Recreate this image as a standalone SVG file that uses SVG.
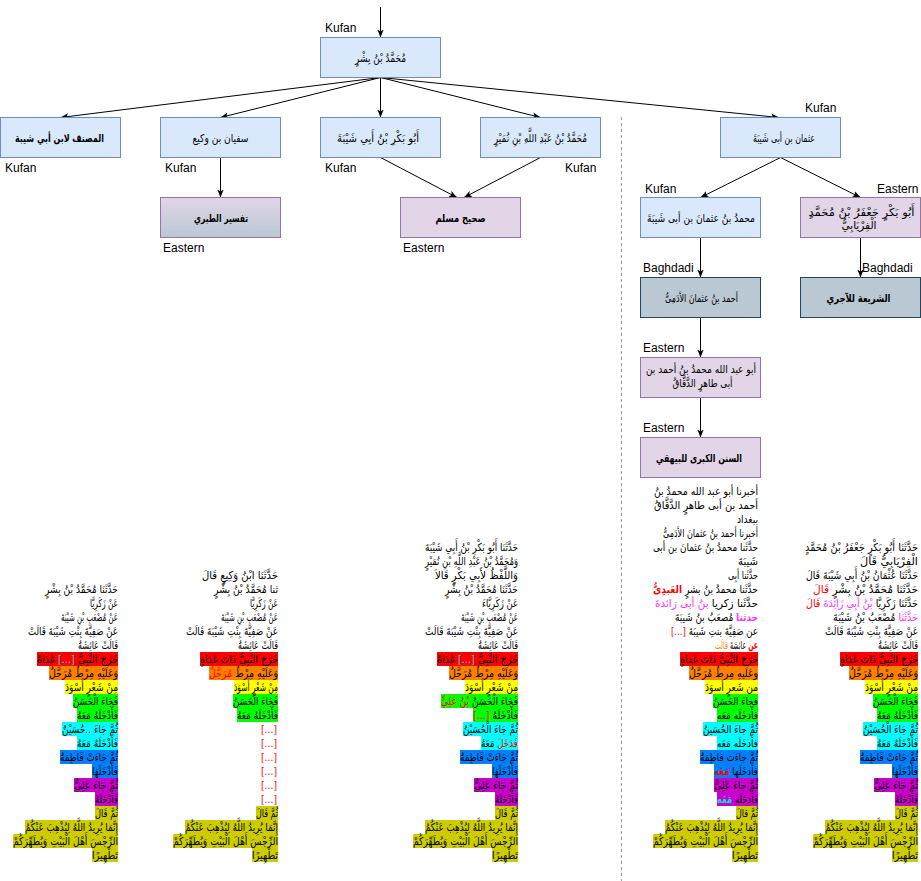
<svg xmlns="http://www.w3.org/2000/svg" width="921" height="881" viewBox="0 0 921 881">
<style>
.box rect{stroke-width:1}
.blue{fill:#dae8fc;stroke:#6c8ebf}
.purp{fill:#e1d5e7;stroke:#9673a6}
.gray{fill:#bac8d3;stroke:#23445d}
.nt{font-family:"DejaVu Sans",sans-serif;font-size:11px;fill:#000;text-anchor:middle}
.b{font-weight:bold}
.lbl{font-family:"Liberation Sans",Arial,sans-serif;font-size:12px;fill:#000}
.ar{font-family:"DejaVu Sans",sans-serif;font-size:11px;fill:#000;text-anchor:end}
.conn line{stroke:#000;stroke-width:1;fill:none;marker-end:url(#arr)}
.hr{fill:#ff0000}.ho{fill:#ff8000}.hy{fill:#ffff00}.hg{fill:#00ff00}.hc{fill:#00ffff}.hb{fill:#007fff}.hp{fill:#cc00cc}.hl{fill:#cccc00}
.tr{fill:#ff0000}.tm{fill:#ff33ff}.tc{fill:#00dede}.to{fill:#ff8000}
</style>
<defs>
<marker id="arr" viewBox="0 0 10 10" refX="10" refY="5" markerWidth="8" markerHeight="8" markerUnits="userSpaceOnUse" orient="auto">
<path d="M0,1 L10,5 L0,9 L2.5,5 z" fill="#000"/>
</marker>
<linearGradient id="grad" x1="0" y1="0" x2="0" y2="1">
<stop offset="0" stop-color="#e1d5e7"/>
<stop offset="1" stop-color="#bac8d3"/>
</linearGradient>
</defs>

<line x1="621.5" y1="117" x2="621.5" y2="881" stroke="#999" stroke-width="1" stroke-dasharray="3 3"/>

<g id="connectors" class="conn">
<line x1="380.5" y1="7" x2="380.5" y2="37.5"/>
<line x1="380.5" y1="77.5" x2="60.5" y2="117.5"/>
<line x1="380.5" y1="77.5" x2="220.5" y2="117.5"/>
<line x1="380.5" y1="77.5" x2="380.5" y2="117.5"/>
<line x1="380.5" y1="77.5" x2="540.5" y2="117.5"/>
<line x1="380.5" y1="77.5" x2="779" y2="117.5"/>
<line x1="220.5" y1="157.5" x2="220.5" y2="197.5"/>
<line x1="380.5" y1="157.5" x2="457" y2="197.5"/>
<line x1="540.5" y1="157.5" x2="464" y2="197.5"/>
<line x1="780.5" y1="157.5" x2="700.5" y2="197.5"/>
<line x1="780.5" y1="157.5" x2="860.5" y2="197.5"/>
<line x1="700.5" y1="237.5" x2="700.5" y2="277.5"/>
<line x1="860.5" y1="237.5" x2="860.5" y2="277.5"/>
<line x1="700.5" y1="317.5" x2="700.5" y2="357.5"/>
<line x1="700.5" y1="397.5" x2="700.5" y2="437.5"/>
</g>

<g id="n-ibn-bishr" class="box"><rect class="blue" x="320.5" y="37.5" width="120" height="40"/><text class="nt" x="380.5" y="61.5" textLength="51" lengthAdjust="spacingAndGlyphs">مُحَمَّدُ بْنُ بِشْرٍ</text><text class="lbl" x="325" y="31.5">Kufan</text></g>
<g id="n-musannaf" class="box"><rect class="blue" x="0.5" y="117.5" width="120" height="40"/><text class="nt b" x="59.5" y="141.5" textLength="89" lengthAdjust="spacingAndGlyphs">المصنف لابن أبي شيبة</text><text class="lbl" x="5" y="171.5">Kufan</text></g>
<g id="n-sufyan" class="box"><rect class="blue" x="160.5" y="117.5" width="120" height="40"/><text class="nt" x="220.5" y="141.5" textLength="56" lengthAdjust="spacingAndGlyphs">سفيان بن وكيع</text><text class="lbl" x="165" y="171.5">Kufan</text></g>
<g id="n-abubakr" class="box"><rect class="blue" x="320.5" y="117.5" width="120" height="40"/><text class="nt" x="378" y="141.5" textLength="82" lengthAdjust="spacingAndGlyphs">أَبُو بَكْرِ بْنُ أَبِي شَيْبَةَ</text><text class="lbl" x="325" y="171.5">Kufan</text></g>
<g id="n-numayr" class="box"><rect class="blue" x="480.5" y="117.5" width="120" height="40"/><text class="nt" x="540.5" y="141.5" textLength="93" lengthAdjust="spacingAndGlyphs">مُحَمَّدُ بْنُ عَبْدِ اللَّهِ بْنِ نُمَيْرٍ</text><text class="lbl" x="565" y="171.5">Kufan</text></g>
<g id="n-uthman" class="box"><rect class="blue" x="720.5" y="117.5" width="120" height="40"/><text class="nt" x="784" y="141.5" textLength="62" lengthAdjust="spacingAndGlyphs">عثمان بن أبى شَيبَةَ</text><text class="lbl" x="805" y="111.5">Kufan</text></g>
<g id="n-tabari" class="box"><rect x="160.5" y="197.5" width="120" height="40" fill="url(#grad)" stroke="#9673a6"/><text class="nt b" x="221" y="221.5" textLength="54" lengthAdjust="spacingAndGlyphs">تفسير الطبري</text><text class="lbl" x="163" y="251.5">Eastern</text></g>
<g id="n-muslim" class="box"><rect class="purp" x="400.5" y="197.5" width="120" height="40"/><text class="nt b" x="460.5" y="221.5" textLength="50" lengthAdjust="spacingAndGlyphs">صحيح مسلم</text><text class="lbl" x="403" y="251.5">Eastern</text></g>
<g id="n-muhammad-uthman" class="box"><rect class="blue" x="640.5" y="197.5" width="120" height="40"/><text class="nt" x="701" y="221.5" textLength="108" lengthAdjust="spacingAndGlyphs">محمدُ بنُ عثمانَ بن أبى شَيبَةَ</text><text class="lbl" x="645" y="193">Kufan</text></g>
<g id="n-firyabi" class="box"><rect class="purp" x="800.5" y="197.5" width="120" height="40"/><text class="nt" x="861.5" y="215.5" textLength="106" lengthAdjust="spacingAndGlyphs">أَبُو بَكْرٍ جَعْفَرُ بْنُ مُحَمَّدٍ</text><text class="nt" x="859" y="229" textLength="35" lengthAdjust="spacingAndGlyphs">الْفِرْيَابِيُّ</text><text class="lbl" x="877" y="193">Eastern</text></g>
<g id="n-adami" class="box"><rect class="gray" x="640.5" y="277.5" width="120" height="40"/><text class="nt" x="701.5" y="301.5" textLength="73" lengthAdjust="spacingAndGlyphs">أحمد بنُ عثمانَ الأدَمِىُّ</text><text class="lbl" x="643" y="272">Baghdadi</text></g>
<g id="n-shariah" class="box"><rect class="gray" x="800.5" y="277.5" width="120" height="40"/><text class="nt b" x="858.5" y="301.5" textLength="64" lengthAdjust="spacingAndGlyphs">الشريعة للآجري</text><text class="lbl" x="862" y="272">Baghdadi</text></g>
<g id="n-daqqaq" class="box"><rect class="purp" x="640.5" y="357.5" width="120" height="40"/><text class="nt" x="701" y="373" textLength="110" lengthAdjust="spacingAndGlyphs">أبو عبد الله محمدُ بنُ أحمد بن</text><text class="nt" x="702.5" y="386.5" textLength="60" lengthAdjust="spacingAndGlyphs">أبى طاهرٍ الدَّقَّاقُ</text><text class="lbl" x="643" y="351.5">Eastern</text></g>
<g id="n-bayhaqi" class="box"><rect class="purp" x="640.5" y="437.5" width="120" height="40"/><text class="nt b" x="699" y="461.5" textLength="86" lengthAdjust="spacingAndGlyphs">السنن الكبرى للبيهقي</text><text class="lbl" x="643" y="431.5">Eastern</text></g>

<!-- Column 1 -->
<g id="text-musannaf">
<text class="ar" x="118" y="593" textLength="73" lengthAdjust="spacingAndGlyphs">حَدَّثَنَا مُحَمَّدُ بْنُ بِشْرٍ</text>
<text class="ar" x="118" y="607" textLength="28" lengthAdjust="spacingAndGlyphs">عَنْ زَكَرِيَّا</text>
<text class="ar" x="118" y="621" textLength="57" lengthAdjust="spacingAndGlyphs">عَنْ مُصْعَبِ بْنِ شَيْبَةَ</text>
<text class="ar" x="118" y="635" textLength="90" lengthAdjust="spacingAndGlyphs">عَنْ صَفِيَّةَ بِنْتِ شَيْبَةَ قَالَتْ</text>
<text class="ar" x="118" y="649" textLength="40" lengthAdjust="spacingAndGlyphs">قَالَتْ عَائِشَةُ</text>
<rect class="hr" x="37" y="652" width="81" height="14"/>
<rect class="ho" x="49" y="666" width="69" height="14"/>
<rect class="hy" x="65" y="680" width="53" height="14"/>
<rect class="hg" x="73" y="694" width="45" height="14"/>
<rect class="hg" x="77" y="708" width="41" height="14"/>
<rect class="hc" x="62" y="722" width="56" height="14"/>
<rect class="hc" x="77" y="736" width="41" height="14"/>
<rect class="hb" x="60" y="750" width="58" height="14"/>
<rect class="hb" x="92" y="764" width="26" height="14"/>
<rect class="hp" x="74" y="778" width="44" height="14"/>
<rect class="hp" x="95" y="792" width="23" height="14"/>
<rect class="hl" x="95" y="806" width="23" height="14"/>
<rect class="hl" x="25" y="820" width="93" height="14"/>
<rect class="hl" x="13" y="834" width="105" height="14"/>
<rect class="hl" x="92" y="848" width="26" height="14"/>
<text class="ar" x="118" y="663" textLength="81" lengthAdjust="spacingAndGlyphs">خَرَجَ النَّبِيُّ <tspan class="tc">[...]</tspan> غَدَاةً</text>
<text class="ar" x="118" y="677" textLength="69" lengthAdjust="spacingAndGlyphs">وَعَلَيْهِ مِرْطٌ مُرَحَّلٌ</text>
<text class="ar" x="118" y="691" textLength="53" lengthAdjust="spacingAndGlyphs">مِنْ شَعْرٍ أَسْوَدَ</text>
<text class="ar" x="118" y="705" textLength="45" lengthAdjust="spacingAndGlyphs">فَجَاءَ الْحَسَنُ</text>
<text class="ar" x="118" y="719" textLength="41" lengthAdjust="spacingAndGlyphs">فَأَدْخَلَهُ مَعَهُ</text>
<text class="ar" x="118" y="733" textLength="56" lengthAdjust="spacingAndGlyphs">ثُمَّ جَاءَ <tspan class="tr">..</tspan>حُسَيْنٌ</text>
<text class="ar" x="118" y="747" textLength="41" lengthAdjust="spacingAndGlyphs">فَأَدْخَلَهُ مَعَهُ</text>
<text class="ar" x="118" y="761" textLength="58" lengthAdjust="spacingAndGlyphs">ثُمَّ جَاءَتْ فَاطِمَةُ</text>
<text class="ar" x="118" y="775" textLength="26" lengthAdjust="spacingAndGlyphs">فَأَدْخَلَهَا</text>
<text class="ar" x="118" y="789" textLength="44" lengthAdjust="spacingAndGlyphs">ثُمَّ جَاءَ عَلِيٌّ</text>
<text class="ar" x="118" y="803" textLength="23" lengthAdjust="spacingAndGlyphs">فَأَدْخَلَهُ</text>
<text class="ar" x="118" y="817" textLength="23" lengthAdjust="spacingAndGlyphs">ثُمَّ قَالَ</text>
<text class="ar" x="118" y="831" textLength="93" lengthAdjust="spacingAndGlyphs">إِنَّمَا يُرِيدُ اللَّهُ لِيُذْهِبَ عَنْكُمُ</text>
<text class="ar" x="118" y="845" textLength="105" lengthAdjust="spacingAndGlyphs">الرِّجْسَ أَهْلَ الْبَيْتِ وَيُطَهِّرَكُمْ</text>
<text class="ar" x="118" y="859" textLength="26" lengthAdjust="spacingAndGlyphs">تَطْهِيرًا</text>
</g>

<!-- Column 2 -->
<g id="text-tabari">
<text class="ar" x="278" y="579" textLength="76" lengthAdjust="spacingAndGlyphs">حَدَّثَنَا ابْنُ وَكِيعٍ قَالَ</text>
<text class="ar" x="278" y="593" textLength="64" lengthAdjust="spacingAndGlyphs">ثنا مُحَمَّدُ بْنُ بِشْرٍ</text>
<text class="ar" x="278" y="607" textLength="28" lengthAdjust="spacingAndGlyphs">عَنْ زَكَرِيَّا</text>
<text class="ar" x="278" y="621" textLength="57" lengthAdjust="spacingAndGlyphs">عَنْ مُصْعَبِ بْنِ شَيْبَةَ</text>
<text class="ar" x="278" y="635" textLength="92" lengthAdjust="spacingAndGlyphs">عَنْ صَفِيَّةَ بِنْتِ شَيْبَةَ قَالَتْ</text>
<text class="ar" x="278" y="649" textLength="40" lengthAdjust="spacingAndGlyphs">قَالَتْ عَائِشَةُ</text>
<rect class="hr" x="200" y="652" width="78" height="14"/>
<rect class="ho" x="209" y="666" width="69" height="14"/>
<rect class="hy" x="234" y="680" width="44" height="14"/>
<rect class="hg" x="233" y="694" width="45" height="14"/>
<rect class="hg" x="237" y="708" width="41" height="14"/>
<rect class="hl" x="256" y="806" width="22" height="14"/>
<rect class="hl" x="185" y="820" width="93" height="14"/>
<rect class="hl" x="173" y="834" width="105" height="14"/>
<rect class="hl" x="252" y="848" width="26" height="14"/>
<text class="ar" x="278" y="663" textLength="78" lengthAdjust="spacingAndGlyphs">خَرَجَ النَّبِيُّ ذَاتَ غَدَاةٍ</text>
<text class="ar" x="278" y="677" textLength="69" lengthAdjust="spacingAndGlyphs">وَعَلَيْهِ مِرْطٌ <tspan class="tr">مُرَجَّلٌ</tspan></text>
<text class="ar" x="278" y="691" textLength="44" lengthAdjust="spacingAndGlyphs">مِنْ شَعْرٍ أَسْوَدَ</text>
<text class="ar" x="278" y="705" textLength="45" lengthAdjust="spacingAndGlyphs">فَجَاءَ الْحَسَنُ</text>
<text class="ar" x="278" y="719" textLength="41" lengthAdjust="spacingAndGlyphs">فَأَدْخَلَهُ مَعَهُ</text>
<text class="ar tr" x="277" y="733" textLength="16" lengthAdjust="spacingAndGlyphs">[...]</text>
<text class="ar tr" x="277" y="747" textLength="16" lengthAdjust="spacingAndGlyphs">[...]</text>
<text class="ar tr" x="277" y="761" textLength="16" lengthAdjust="spacingAndGlyphs">[...]</text>
<text class="ar tr" x="277" y="775" textLength="16" lengthAdjust="spacingAndGlyphs">[...]</text>
<text class="ar tr" x="277" y="789" textLength="16" lengthAdjust="spacingAndGlyphs">[...]</text>
<text class="ar tr" x="277" y="803" textLength="16" lengthAdjust="spacingAndGlyphs">[...]</text>
<text class="ar" x="278" y="817" textLength="22" lengthAdjust="spacingAndGlyphs">ثُمَّ قَالَ</text>
<text class="ar" x="278" y="831" textLength="93" lengthAdjust="spacingAndGlyphs">إِنَّمَا يُرِيدُ اللَّهُ لِيُذْهِبَ عَنْكُمُ</text>
<text class="ar" x="278" y="845" textLength="105" lengthAdjust="spacingAndGlyphs">الرِّجْسَ أَهْلَ الْبَيْتِ وَيُطَهِّرَكُمْ</text>
<text class="ar" x="278" y="859" textLength="26" lengthAdjust="spacingAndGlyphs">تَطْهِيرًا</text>
</g>

<!-- Column 3 -->
<g id="text-muslim">
<text class="ar" x="518" y="551" textLength="93" lengthAdjust="spacingAndGlyphs">حَدَّثَنَا أَبُو بَكْرِ بْنُ أَبِي شَيْبَةَ</text>
<text class="ar" x="518" y="565" textLength="93" lengthAdjust="spacingAndGlyphs">وَمُحَمَّدُ بْنُ عَبْدِ اللَّهِ بْنِ نُمَيْرٍ</text>
<text class="ar" x="518" y="579" textLength="83" lengthAdjust="spacingAndGlyphs">وَاللَّفْظُ لأَبِي بَكْرٍ قَالاَ</text>
<text class="ar" x="518" y="593" textLength="73" lengthAdjust="spacingAndGlyphs">حَدَّثَنَا مُحَمَّدُ بْنُ بِشْرٍ</text>
<text class="ar" x="518" y="607" textLength="36" lengthAdjust="spacingAndGlyphs">عَنْ زَكَرِيَّاءَ</text>
<text class="ar" x="518" y="621" textLength="57" lengthAdjust="spacingAndGlyphs">عَنْ مُصْعَبِ بْنِ شَيْبَةَ</text>
<text class="ar" x="518" y="635" textLength="93" lengthAdjust="spacingAndGlyphs">عَنْ صَفِيَّةَ بِنْتِ شَيْبَةَ قَالَتْ</text>
<text class="ar" x="518" y="649" textLength="40" lengthAdjust="spacingAndGlyphs">قَالَتْ عَائِشَةُ</text>
<rect class="hr" x="437" y="652" width="81" height="14"/>
<rect class="ho" x="449" y="666" width="69" height="14"/>
<rect class="hy" x="465" y="680" width="53" height="14"/>
<rect class="hg" x="441" y="694" width="77" height="14"/>
<rect class="hg" x="473" y="708" width="45" height="14"/>
<rect class="hc" x="463" y="722" width="55" height="14"/>
<rect class="hc" x="481" y="736" width="37" height="14"/>
<rect class="hb" x="460" y="750" width="58" height="14"/>
<rect class="hb" x="492" y="764" width="26" height="14"/>
<rect class="hp" x="474" y="778" width="44" height="14"/>
<rect class="hp" x="495" y="792" width="23" height="14"/>
<rect class="hl" x="495" y="806" width="23" height="14"/>
<rect class="hl" x="425" y="820" width="93" height="14"/>
<rect class="hl" x="413" y="834" width="105" height="14"/>
<rect class="hl" x="492" y="848" width="26" height="14"/>
<text class="ar" x="518" y="663" textLength="81" lengthAdjust="spacingAndGlyphs">خَرَجَ النَّبِيُّ <tspan class="tc">[...]</tspan> غَدَاةً</text>
<text class="ar" x="518" y="677" textLength="69" lengthAdjust="spacingAndGlyphs">وَعَلَيْهِ مِرْطٌ مُرَحَّلٌ</text>
<text class="ar" x="518" y="691" textLength="53" lengthAdjust="spacingAndGlyphs">مِنْ شَعْرٍ أَسْوَدَ</text>
<text class="ar" x="518" y="705" textLength="77" lengthAdjust="spacingAndGlyphs">فَجَاءَ الْحَسَنُ <tspan class="tr">بْنُ عَلِيٍّ</tspan></text>
<text class="ar" x="518" y="719" textLength="45" lengthAdjust="spacingAndGlyphs">فَأَدْخَلَهُ <tspan class="tr">[...]&#x200F;</tspan></text>
<text class="ar" x="518" y="733" textLength="55" lengthAdjust="spacingAndGlyphs">ثُمَّ جَاءَ الْحُسَيْنُ</text>
<text class="ar" x="518" y="747" textLength="37" lengthAdjust="spacingAndGlyphs"><tspan class="tr">فَدَخَلَ</tspan> مَعَهُ</text>
<text class="ar" x="518" y="761" textLength="58" lengthAdjust="spacingAndGlyphs">ثُمَّ جَاءَتْ فَاطِمَةُ</text>
<text class="ar" x="518" y="775" textLength="26" lengthAdjust="spacingAndGlyphs">فَأَدْخَلَهَا</text>
<text class="ar" x="518" y="789" textLength="44" lengthAdjust="spacingAndGlyphs">ثُمَّ جَاءَ عَلِيٌّ</text>
<text class="ar" x="518" y="803" textLength="23" lengthAdjust="spacingAndGlyphs">فَأَدْخَلَهُ</text>
<text class="ar" x="518" y="817" textLength="23" lengthAdjust="spacingAndGlyphs">ثُمَّ قَالَ</text>
<text class="ar" x="518" y="831" textLength="93" lengthAdjust="spacingAndGlyphs">إِنَّمَا يُرِيدُ اللَّهُ لِيُذْهِبَ عَنْكُمُ</text>
<text class="ar" x="518" y="845" textLength="105" lengthAdjust="spacingAndGlyphs">الرِّجْسَ أَهْلَ الْبَيْتِ وَيُطَهِّرَكُمْ</text>
<text class="ar" x="518" y="859" textLength="26" lengthAdjust="spacingAndGlyphs">تَطْهِيرًا</text>
</g>

<!-- Column 4 -->
<g id="text-bayhaqi">
<text class="ar" x="758" y="495" textLength="104" lengthAdjust="spacingAndGlyphs">أخبرنا أبو عبد الله محمدُ بنُ</text>
<text class="ar" x="758" y="509" textLength="104" lengthAdjust="spacingAndGlyphs">أحمد بن أبى طاهرٍ الدَّقَّاقُ</text>
<text class="ar" x="758" y="523" textLength="21" lengthAdjust="spacingAndGlyphs">ببغداد</text>
<text class="ar" x="758" y="537" textLength="95" lengthAdjust="spacingAndGlyphs">أخبرنا أحمد بنُ عثمانَ الأدَمِىُّ</text>
<text class="ar" x="758" y="551" textLength="105" lengthAdjust="spacingAndGlyphs">حدَّثَنا محمدُ بنُ عثمانَ بن أبى</text>
<text class="ar" x="758" y="565" textLength="20" lengthAdjust="spacingAndGlyphs">شَيبَةَ</text>
<text class="ar" x="758" y="579" textLength="30" lengthAdjust="spacingAndGlyphs">حدَّثَنا أبِى</text>
<text class="ar" x="758" y="593" textLength="105" lengthAdjust="spacingAndGlyphs">حدَّثَنا محمدُ بنُ بشرٍ <tspan class="tr b">العَبدِىُّ</tspan></text>
<text class="ar" x="758" y="607" textLength="103" lengthAdjust="spacingAndGlyphs">حدَّثَنا زكريا <tspan class="tm">بنُ أبى زائدةَ</tspan></text>
<text class="ar" x="758" y="621" textLength="83" lengthAdjust="spacingAndGlyphs"><tspan class="tm b">حدثنا</tspan> مُصعَبُ بنُ شَيبَةَ</text>
<text class="ar" x="758" y="635" textLength="87" lengthAdjust="spacingAndGlyphs">عن صَفِيَّةَ بنتِ شَيبَةَ <tspan class="tr">[...]&#x200F;</tspan></text>
<text class="ar" x="758" y="649" textLength="43" lengthAdjust="spacingAndGlyphs"><tspan class="tr b">عن</tspan> عائشةَ <tspan class="to">قالَت</tspan></text>
<rect class="hr" x="680" y="652" width="78" height="14"/>
<rect class="ho" x="689" y="666" width="69" height="14"/>
<rect class="hy" x="705" y="680" width="53" height="14"/>
<rect class="hg" x="713" y="694" width="45" height="14"/>
<rect class="hg" x="717" y="708" width="41" height="14"/>
<rect class="hc" x="703" y="722" width="55" height="14"/>
<rect class="hc" x="717" y="736" width="41" height="14"/>
<rect class="hb" x="700" y="750" width="58" height="14"/>
<rect class="hb" x="714" y="764" width="44" height="14"/>
<rect class="hp" x="714" y="778" width="44" height="14"/>
<rect class="hp" x="717" y="792" width="41" height="14"/>
<rect class="hl" x="736" y="806" width="22" height="14"/>
<rect class="hl" x="665" y="820" width="93" height="14"/>
<rect class="hl" x="653" y="834" width="105" height="14"/>
<rect class="hl" x="732" y="848" width="26" height="14"/>
<text class="ar" x="758" y="663" textLength="78" lengthAdjust="spacingAndGlyphs">خَرَجَ النَّبِىُّ ذاتَ غَداةٍ</text>
<text class="ar" x="758" y="677" textLength="69" lengthAdjust="spacingAndGlyphs">وعَلَيهِ مِرطٌ مُرَحَّلٌ</text>
<text class="ar" x="758" y="691" textLength="53" lengthAdjust="spacingAndGlyphs">من شَعرٍ أسوَدَ</text>
<text class="ar" x="758" y="705" textLength="45" lengthAdjust="spacingAndGlyphs">فجاءَ الحَسَنُ</text>
<text class="ar" x="758" y="719" textLength="41" lengthAdjust="spacingAndGlyphs">فأَدخَلَه مَعَه</text>
<text class="ar" x="758" y="733" textLength="55" lengthAdjust="spacingAndGlyphs">ثُمَّ جاءَ الحُسَينُ</text>
<text class="ar" x="758" y="747" textLength="41" lengthAdjust="spacingAndGlyphs">فأَدخَلَه مَعَه</text>
<text class="ar" x="758" y="761" textLength="58" lengthAdjust="spacingAndGlyphs">ثُمَّ جاءَت فاطِمَةُ</text>
<text class="ar" x="758" y="775" textLength="44" lengthAdjust="spacingAndGlyphs">فأَدخَلَها <tspan class="tr b">مَعَه</tspan></text>
<text class="ar" x="758" y="789" textLength="44" lengthAdjust="spacingAndGlyphs">ثُمَّ جاءَ عَلِىٌّ</text>
<text class="ar" x="758" y="803" textLength="41" lengthAdjust="spacingAndGlyphs">فأَدخَلَه <tspan class="tc b">مَعَه</tspan></text>
<text class="ar" x="758" y="817" textLength="22" lengthAdjust="spacingAndGlyphs">ثُمَّ قالَ</text>
<text class="ar" x="758" y="831" textLength="93" lengthAdjust="spacingAndGlyphs">إِنَّمَا يُرِيدُ اللَّهُ لِيُذْهِبَ عَنْكُمُ</text>
<text class="ar" x="758" y="845" textLength="105" lengthAdjust="spacingAndGlyphs">الرِّجْسَ أَهْلَ الْبَيْتِ وَيُطَهِّرَكُمْ</text>
<text class="ar" x="758" y="859" textLength="26" lengthAdjust="spacingAndGlyphs">تَطْهِيرًا</text>
</g>

<!-- Column 5 -->
<g id="text-shariah">
<text class="ar" x="918" y="551" textLength="113" lengthAdjust="spacingAndGlyphs">حَدَّثَنَا أَبُو بَكْرٍ جَعْفَرُ بْنُ مُحَمَّدٍ</text>
<text class="ar" x="918" y="565" textLength="58" lengthAdjust="spacingAndGlyphs">الْفِرْيَابِيُّ قَالَ</text>
<text class="ar" x="918" y="579" textLength="112" lengthAdjust="spacingAndGlyphs">حَدَّثَنَا عُثْمَانُ بْنُ أَبِي شَيْبَةَ قَالَ</text>
<text class="ar" x="918" y="593" textLength="105" lengthAdjust="spacingAndGlyphs">حَدَّثَنَا مُحَمَّدُ بْنُ بِشْرٍ <tspan class="tr">قَالَ</tspan></text>
<text class="ar" x="918" y="607" textLength="112" lengthAdjust="spacingAndGlyphs">حَدَّثَنَا زَكَرِيَّا <tspan class="tm">بْنُ أَبِي زَائِدَةَ</tspan> <tspan class="tr">قَالَ</tspan></text>
<text class="ar" x="918" y="621" textLength="85" lengthAdjust="spacingAndGlyphs"><tspan class="tm">حَدَّثَنَا</tspan> مُصْعَبُ بْنُ شَيْبَةَ</text>
<text class="ar" x="918" y="635" textLength="93" lengthAdjust="spacingAndGlyphs">عَنْ صَفِيَّةَ بِنْتِ شَيْبَةَ قَالَتْ</text>
<text class="ar" x="918" y="649" textLength="40" lengthAdjust="spacingAndGlyphs">قَالَتْ عَائِشَةُ</text>
<rect class="hr" x="840" y="652" width="78" height="14"/>
<rect class="ho" x="849" y="666" width="69" height="14"/>
<rect class="hy" x="865" y="680" width="53" height="14"/>
<rect class="hg" x="873" y="694" width="45" height="14"/>
<rect class="hg" x="877" y="708" width="41" height="14"/>
<rect class="hc" x="863" y="722" width="55" height="14"/>
<rect class="hc" x="877" y="736" width="41" height="14"/>
<rect class="hb" x="860" y="750" width="58" height="14"/>
<rect class="hb" x="892" y="764" width="26" height="14"/>
<rect class="hp" x="874" y="778" width="44" height="14"/>
<rect class="hp" x="895" y="792" width="23" height="14"/>
<rect class="hl" x="895" y="806" width="23" height="14"/>
<rect class="hl" x="825" y="820" width="93" height="14"/>
<rect class="hl" x="813" y="834" width="105" height="14"/>
<rect class="hl" x="892" y="848" width="26" height="14"/>
<text class="ar" x="918" y="663" textLength="78" lengthAdjust="spacingAndGlyphs">خَرَجَ النَّبِيُّ ذَاتَ غَدَاةٍ</text>
<text class="ar" x="918" y="677" textLength="69" lengthAdjust="spacingAndGlyphs">وَعَلَيْهِ مِرْطٌ مُرَحَّلٌ</text>
<text class="ar" x="918" y="691" textLength="53" lengthAdjust="spacingAndGlyphs">مِنْ شَعْرٍ أَسْوَدَ</text>
<text class="ar" x="918" y="705" textLength="45" lengthAdjust="spacingAndGlyphs">فَجَاءَ الْحَسَنُ</text>
<text class="ar" x="918" y="719" textLength="41" lengthAdjust="spacingAndGlyphs">فَأَدْخَلَهُ مَعَهُ</text>
<text class="ar" x="918" y="733" textLength="55" lengthAdjust="spacingAndGlyphs">ثُمَّ جَاءَ الْحُسَيْنُ</text>
<text class="ar" x="918" y="747" textLength="41" lengthAdjust="spacingAndGlyphs">فَأَدْخَلَهُ مَعَهُ</text>
<text class="ar" x="918" y="761" textLength="58" lengthAdjust="spacingAndGlyphs">ثُمَّ جَاءَتْ فَاطِمَةُ</text>
<text class="ar" x="918" y="775" textLength="26" lengthAdjust="spacingAndGlyphs">فَأَدْخَلَهَا</text>
<text class="ar" x="918" y="789" textLength="44" lengthAdjust="spacingAndGlyphs">ثُمَّ جَاءَ عَلِيٌّ</text>
<text class="ar" x="918" y="803" textLength="23" lengthAdjust="spacingAndGlyphs">فَأَدْخَلَهُ</text>
<text class="ar" x="918" y="817" textLength="23" lengthAdjust="spacingAndGlyphs">ثُمَّ قَالَ</text>
<text class="ar" x="918" y="831" textLength="93" lengthAdjust="spacingAndGlyphs">إِنَّمَا يُرِيدُ اللَّهُ لِيُذْهِبَ عَنْكُمُ</text>
<text class="ar" x="918" y="845" textLength="105" lengthAdjust="spacingAndGlyphs">الرِّجْسَ أَهْلَ الْبَيْتِ وَيُطَهِّرَكُمْ</text>
<text class="ar" x="918" y="859" textLength="26" lengthAdjust="spacingAndGlyphs">تَطْهِيرًا</text>
</g>
</svg>
